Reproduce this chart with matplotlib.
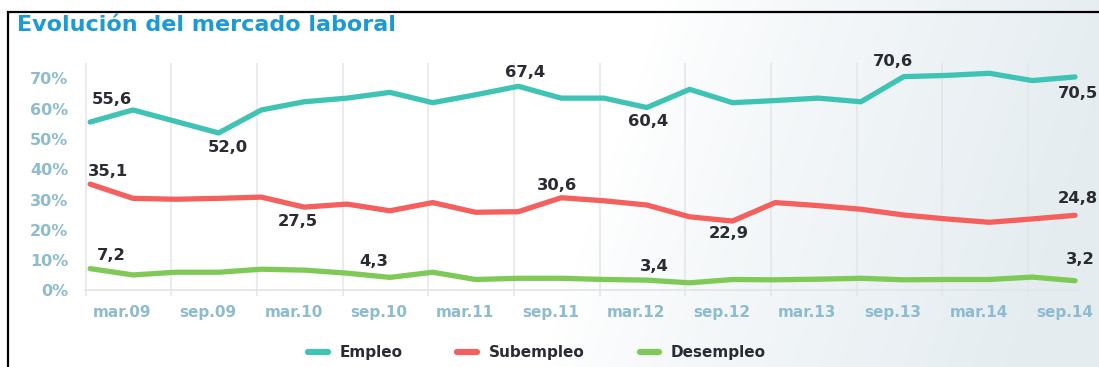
import numpy as np
import matplotlib
matplotlib.use("Agg")
import matplotlib.pyplot as plt
from matplotlib.lines import Line2D
from matplotlib.patches import Rectangle
from matplotlib.colors import to_rgb

# Quarterly labour-market shares (%), mar.09 .. dec.14
empleo = [55.6, 59.6, 55.8, 52.0, 59.6, 62.3, 63.5, 65.4, 62.0, 64.6, 67.4, 63.5,
          63.5, 60.4, 66.4, 62.0, 62.7, 63.5, 62.3, 70.6, 71.0, 71.7, 69.3, 70.5]
subempleo = [35.1, 30.4, 30.1, 30.4, 30.8, 27.5, 28.5, 26.3, 29.0, 25.8, 26.0, 30.6,
             29.6, 28.2, 24.3, 22.9, 29.0, 28.0, 26.8, 24.9, 23.6, 22.5, 23.6, 24.8]
desempleo = [7.2, 5.1, 6.0, 6.0, 7.0, 6.7, 5.7, 4.3, 6.0, 3.6, 4.0, 4.0,
             3.6, 3.4, 2.5, 3.6, 3.5, 3.7, 4.0, 3.5, 3.6, 3.6, 4.4, 3.2]
period_labels = ["mar.09", "sep.09", "mar.10", "sep.10", "mar.11", "sep.11",
                 "mar.12", "sep.12", "mar.13", "sep.13", "mar.14", "sep.14"]
series_names = ["Empleo", "Subempleo", "Desempleo"]
y_ticks = [0, 10, 20, 30, 40, 50, 60, 70]

C_EMP = "#3ec3b5"
C_SUB = "#f4605e"
C_DES = "#7fc957"
C_TICK = "#8dbbd0"
C_TEXT = "#2a2b33"
C_GRID = "#e3e6e9"
C_TITLE = "#1b9ad5"
FONT = "DejaVu Sans"

W, H = 1099, 367
fig = plt.figure(figsize=(W / 100, H / 100), dpi=100)
fig.patch.set_facecolor("white")

# soft bluish wash towards the right-hand side
bg = fig.add_axes([0, 0, 1, 1], zorder=-10)
bg.set_axis_off()
gx = np.linspace(0, 1, 400)[None, :]
gy = np.linspace(0, 1, 150)[:, None]
t = np.clip((gx - 0.55) / 0.45 + (gy - 0.5) * 0.25, 0, 1) ** 0.8
c0 = np.array(to_rgb("#ffffff"))
c1 = np.array(to_rgb("#e4ecf0"))
img = c0[None, None, :] * (1 - t[..., None]) + c1[None, None, :] * t[..., None]
bg.imshow(img, extent=[0, 1, 0, 1], aspect="auto", origin="upper")
bg.set_xlim(0, 1)
bg.set_ylim(0, 1)

# frame lines (left and top)
fig.add_artist(Rectangle((8 / W, -0.2), 1.2, (H - 12) / H + 0.2,
                         transform=fig.transFigure, fill=False,
                         edgecolor="black", lw=1.6, zorder=5))

ax = fig.add_axes([85 / W, (H - 290.4) / H, (1078 - 85) / W, (290.4 - 63) / H])
ax.patch.set_alpha(0)
n = len(empleo)
x = np.arange(n)
ax.set_xlim(-0.12, 23.07)
ax.set_ylim(0, 75.1)

for s in ["top", "right", "left"]:
    ax.spines[s].set_visible(False)
ax.spines["bottom"].set_color(C_GRID)
ax.spines["bottom"].set_linewidth(1.3)

ax.set_xticks([0.75 + 2 * k for k in range(len(period_labels))])
ax.set_xticklabels(period_labels)
ax.set_xticks([-0.1 + 2 * k for k in range(len(period_labels))], minor=True)
ax.tick_params(axis="x", which="major", length=0, pad=10.5,
               labelsize=11, labelcolor=C_TICK)
ax.tick_params(axis="x", which="minor", length=4, color=C_GRID, width=1.1)
ax.grid(axis="x", which="minor", color=C_GRID, lw=1.1)
ax.grid(axis="x", which="major", visible=False)
ax.set_yticks(y_ticks)
ax.set_yticklabels([f"{v}%" for v in y_ticks])
ax.tick_params(axis="y", length=0, pad=12, labelsize=11.5, labelcolor=C_TICK)
for lab in ax.get_xticklabels() + ax.get_yticklabels():
    lab.set_fontweight("bold")
    lab.set_family(FONT)

style = dict(lw=3.8, solid_capstyle="round", solid_joinstyle="round", zorder=3)
ax.plot(x, empleo, color=C_EMP, label=series_names[0], **style)
ax.plot(x, subempleo, color=C_SUB, label=series_names[1], **style)
ax.plot(x, desempleo, color=C_DES, label=series_names[2], **style)

# value annotations: (series, index, dx px, dy px)
notes = [
    (empleo, 0, 22, 22.7), (empleo, 3, 9.5, -14.4), (empleo, 10, 7, 13.4),
    (empleo, 13, 1, -14.4), (empleo, 19, -11, 14.7), (empleo, 23, 3, -17),
    (subempleo, 0, 18, 13), (subempleo, 5, -6, -14), (subempleo, 11, -4, 12),
    (subempleo, 15, -3.5, -12), (subempleo, 23, 3, 17),
    (desempleo, 0, 21, 12.6), (desempleo, 7, -16, 15.4), (desempleo, 13, 8, 14),
    (desempleo, 23, 5, 21.7),
]
for ser, i, dx, dy in notes:
    ax.annotate(f"{ser[i]:.1f}".replace(".", ","), xy=(i, ser[i]),
                xytext=(dx, dy), textcoords="offset pixels",
                ha="center", va="center", fontsize=11.8, fontweight="bold",
                family=FONT, color=C_TEXT, annotation_clip=False, zorder=4)

fig.text(17 / W, (H - 31) / H, "Evolución del mercado laboral", ha="left",
         va="baseline", fontsize=16, fontweight="bold", family=FONT,
         color=C_TITLE)

handles = [Line2D([], [], color=c, lw=4.5, solid_capstyle="round")
           for c in (C_EMP, C_SUB, C_DES)]
leg = fig.legend(handles, series_names, loc="center",
                 bbox_to_anchor=(537 / W, (H - 353) / H), ncol=3,
                 frameon=False, handlelength=1.3, handletextpad=0.75,
                 columnspacing=3.6, prop=dict(family=FONT, weight="bold",
                                              size=11))
for txt in leg.get_texts():
    txt.set_color(C_TEXT)

fig.savefig("out.png", dpi=100)
